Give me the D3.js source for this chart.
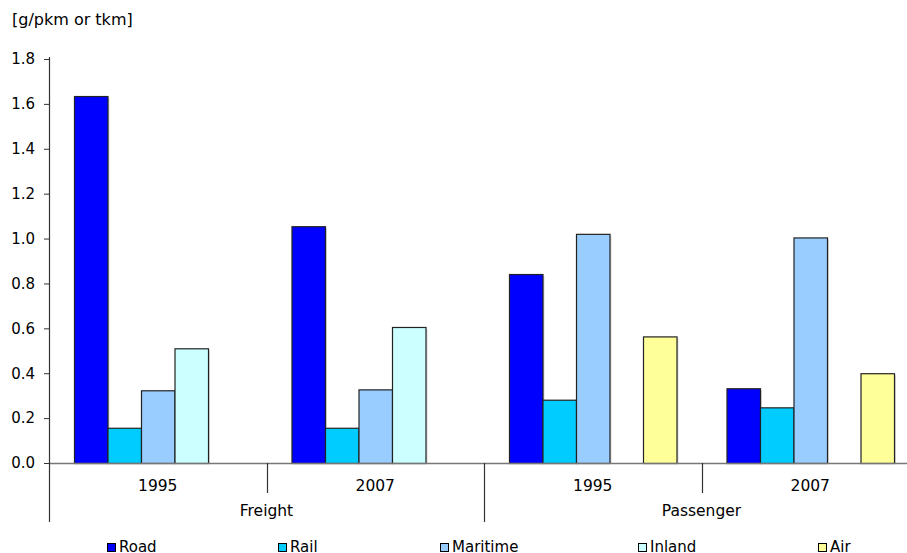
<!DOCTYPE html>
<html>
<head>
<meta charset="utf-8">
<script src="https://cdn.jsdelivr.net/npm/d3@7/dist/d3.min.js"></script>
<style>
  html, body { margin: 0; padding: 0; background: #fff; overflow: hidden; }
  svg { display: block; font-family: "DejaVu Sans", Verdana, sans-serif; }
</style>
</head>
<body>
<svg id="chart" width="907" height="553"></svg>
<script>
// Emission factors by transport mode, grouped by sector and year
const sectors = ["Freight", "Passenger"];
const years = ["1995", "2007"];
const modes = ["Road", "Rail", "Maritime", "Inland", "Air"];
const modeColors = ["#0000FF", "#00CCFF", "#99CCFF", "#CCFFFF", "#FFFF99"];

// values in group order: Freight 1995, Freight 2007, Passenger 1995, Passenger 2007
const road     = [1.635, 1.055, 0.842, 0.333];
const rail     = [0.157, 0.157, 0.282, 0.248];
const maritime = [0.324, 0.328, 1.021, 1.005];
const inland   = [0.511, 0.606, null, null];
const air      = [null, null, 0.564, 0.400];

const yTicks = [0, 0.2, 0.4, 0.6, 0.8, 1.0, 1.2, 1.4, 1.6, 1.8];
const unitLabel = "[g/pkm or tkm]";

const seriesValues = [road, rail, maritime, inland, air];
const groups = [];
sectors.forEach(s => years.forEach(y => groups.push({ sector: s, year: y })));

const svg = d3.select("#chart");
const plotLeft = 49, plotRight = 919, plotTop = 59, plotBottom = 463;

const x0 = d3.scaleBand().domain(d3.range(groups.length)).range([plotLeft, plotRight]).padding(0);
const x1 = d3.scaleBand().domain(modes).range([0, x0.bandwidth()]).paddingInner(0).paddingOuter(0.746);
const y = d3.scaleLinear().domain([0, 1.8]).range([plotBottom, plotTop]);
const color = d3.scaleOrdinal().domain(modes).range(modeColors);

// unit label
svg.append("text").attr("x", 12).attr("y", 25)
  .attr("font-size", 16).attr("fill", "#000").text(unitLabel);

// y axis
const yAxis = svg.append("g").attr("transform", `translate(${plotLeft},0)`)
  .call(d3.axisLeft(y).tickValues(yTicks).tickFormat(d3.format(".1f")).tickSize(5).tickPadding(9));
yAxis.select(".domain").remove();
yAxis.selectAll(".tick line").attr("stroke", "#333");
yAxis.selectAll(".tick text").attr("font-size", 15).attr("fill", "#000")
  .attr("font-family", "DejaVu Sans, Verdana, sans-serif");

// bars
const flat = [];
groups.forEach((g, gi) => modes.forEach((m, mi) => {
  const v = seriesValues[mi][gi];
  if (v != null) flat.push({ gi, mode: m, value: v });
}));

const barG = svg.append("g");
// soft shadow to the right of each bar
barG.selectAll("rect.shadow").data(flat).join("rect").attr("class", "shadow")
  .attr("x", d => x0(d.gi) + x1(d.mode) + 2)
  .attr("y", d => y(d.value) + 2)
  .attr("width", x1.bandwidth())
  .attr("height", d => plotBottom - y(d.value) - 2)
  .attr("fill", "#d8d8d8");
barG.selectAll("rect.bar").data(flat).join("rect").attr("class", "bar")
  .attr("x", d => x0(d.gi) + x1(d.mode) + 0.5)
  .attr("y", d => y(d.value) + 0.5)
  .attr("width", x1.bandwidth())
  .attr("height", d => plotBottom - y(d.value))
  .attr("fill", d => color(d.mode))
  .attr("stroke", "#222").attr("stroke-width", 1.2);

// axis lines
svg.append("line").attr("x1", plotLeft).attr("x2", plotRight).attr("y1", plotBottom + 0.5).attr("y2", plotBottom + 0.5)
  .attr("stroke", "#777").attr("stroke-width", 1.3);
svg.append("line").attr("x1", plotLeft + 0.5).attr("x2", plotLeft + 0.5).attr("y1", plotTop - 2).attr("y2", 522)
  .attr("stroke", "#333").attr("stroke-width", 1.2);

// year labels and separators
groups.forEach((g, gi) => {
  const cx = x0(gi) + x0.bandwidth() / 2;
  svg.append("text").attr("x", cx).attr("y", 491).attr("text-anchor", "middle")
    .attr("font-size", 15.5).attr("fill", "#000").text(g.year);
});
d3.range(1, groups.length).forEach(i => {
  const xx = Math.round(x0(i)) + 0.5;
  const isSector = i % years.length === 0;
  svg.append("line").attr("x1", xx).attr("x2", xx).attr("y1", plotBottom).attr("y2", isSector ? 522 : 493)
    .attr("stroke", "#333").attr("stroke-width", 1.2);
});

// sector labels
sectors.forEach((s, si) => {
  const cx = x0(si * years.length) + x0.bandwidth() * years.length / 2;
  svg.append("text").attr("x", cx).attr("y", 516).attr("text-anchor", "middle")
    .attr("font-size", 15.5).attr("fill", "#000").text(s);
});

// legend
const legendX = [107, 278, 440, 638, 818];
const leg = svg.append("g");
modes.forEach((m, i) => {
  leg.append("rect").attr("x", legendX[i] + 0.5).attr("y", 543.5).attr("width", 8).attr("height", 8)
    .attr("fill", color(m)).attr("stroke", "#000").attr("stroke-width", 1);
  leg.append("text").attr("x", legendX[i] + 12).attr("y", 552)
    .attr("font-size", 15).attr("fill", "#000").text(m);
});
</script>
</body>
</html>
